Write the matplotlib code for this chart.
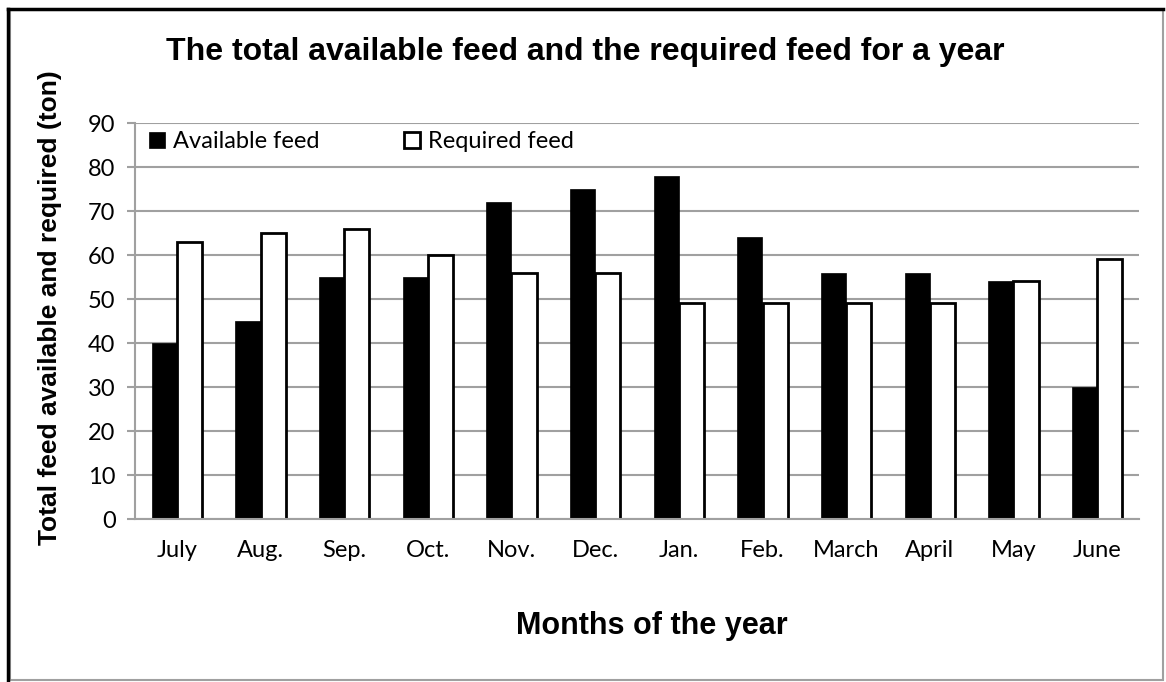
import matplotlib
matplotlib.use("Agg")
import matplotlib.pyplot as plt
import numpy as np
from matplotlib.patches import Rectangle
from matplotlib.lines import Line2D

months = ["July", "Aug.", "Sep.", "Oct.", "Nov.", "Dec.", "Jan.", "Feb.", "March", "April", "May", "June"]
available = [40, 45, 55, 55, 72, 75, 78, 64, 56, 56, 54, 30]
required = [63, 65, 66, 60, 56, 56, 49, 49, 49, 49, 54, 59]
yticks = [0, 10, 20, 30, 40, 50, 60, 70, 80, 90]

W, H = 1166, 682
fig = plt.figure(figsize=(W / 100, H / 100), dpi=100)
fig.patch.set_facecolor("white")

# frame: gray inner box, black left/top edge
fig.add_artist(Rectangle((10 / W, 2 / H), 1153 / W, 670 / H, transform=fig.transFigure,
                         fill=False, edgecolor="#a0a0a0", linewidth=1.5))
fig.add_artist(Line2D([8 / W, 8 / W], [0, 673 / H], transform=fig.transFigure, color="black", linewidth=2.5))
fig.add_artist(Line2D([8 / W, 1163 / W], [673 / H, 673 / H], transform=fig.transFigure, color="black", linewidth=2.5))

ax = fig.add_axes([135 / W, 1 - 519 / H, (1139 - 135) / W, (519 - 123) / H])
x = np.arange(len(months))
bw = 0.3
ax.bar(x - bw / 2, available, width=bw, color="black", edgecolor="black", linewidth=0.5,
       label="Available feed", zorder=2)
ax.bar(x + bw / 2, required, width=bw, color="white", edgecolor="black", linewidth=2.0,
       label="Required feed", zorder=2)

ax.set_xlim(-0.5, len(months) - 0.5)
ax.set_ylim(0, 90)
ax.set_yticks(yticks)
ax.set_xticks(x)
ax.set_xticklabels(months)
ax.yaxis.grid(True, color="#a0a0a0", linewidth=1.5, zorder=0)
ax.set_axisbelow(True)
for s in ["top", "right"]:
    ax.spines[s].set_visible(False)
for s in ["left", "bottom"]:
    ax.spines[s].set_color("#a0a0a0")
    ax.spines[s].set_linewidth(1.5)
    ax.spines[s].set_zorder(3)
ax.tick_params(axis="y", length=6, width=1.5, color="#a0a0a0", pad=8, labelsize=17)
ax.tick_params(axis="x", length=0, pad=15, labelsize=17)
for lab in ax.get_xticklabels() + ax.get_yticklabels():
    lab.set_family("Lato")

ax.set_ylabel("Total feed available and required (ton)", fontsize=19, fontweight="bold",
              family="Liberation Sans")
ax.yaxis.set_label_coords(-0.0845, 0.533)
ax.set_xlabel("Months of the year", fontsize=22, fontweight="bold", family="Liberation Sans")
ax.xaxis.set_label_coords(0.515, -0.27)
ax.xaxis.label.set_va("center")
ax.yaxis.label.set_va("center")

fig.text(585 / W, 1 - 52 / H, "The total available feed and the required feed for a year",
         ha="center", va="center", fontsize=23, fontweight="bold", family="Liberation Sans")

leg = ax.legend(loc="upper left", bbox_to_anchor=(0.0, 1.015), ncol=2, frameon=False,
                prop={"family": "Lato", "size": 17}, handlelength=0.65, handleheight=0.65,
                handletextpad=0.35, columnspacing=3.6, borderaxespad=0.2)

fig.savefig("out.png", dpi=100, facecolor="white")
